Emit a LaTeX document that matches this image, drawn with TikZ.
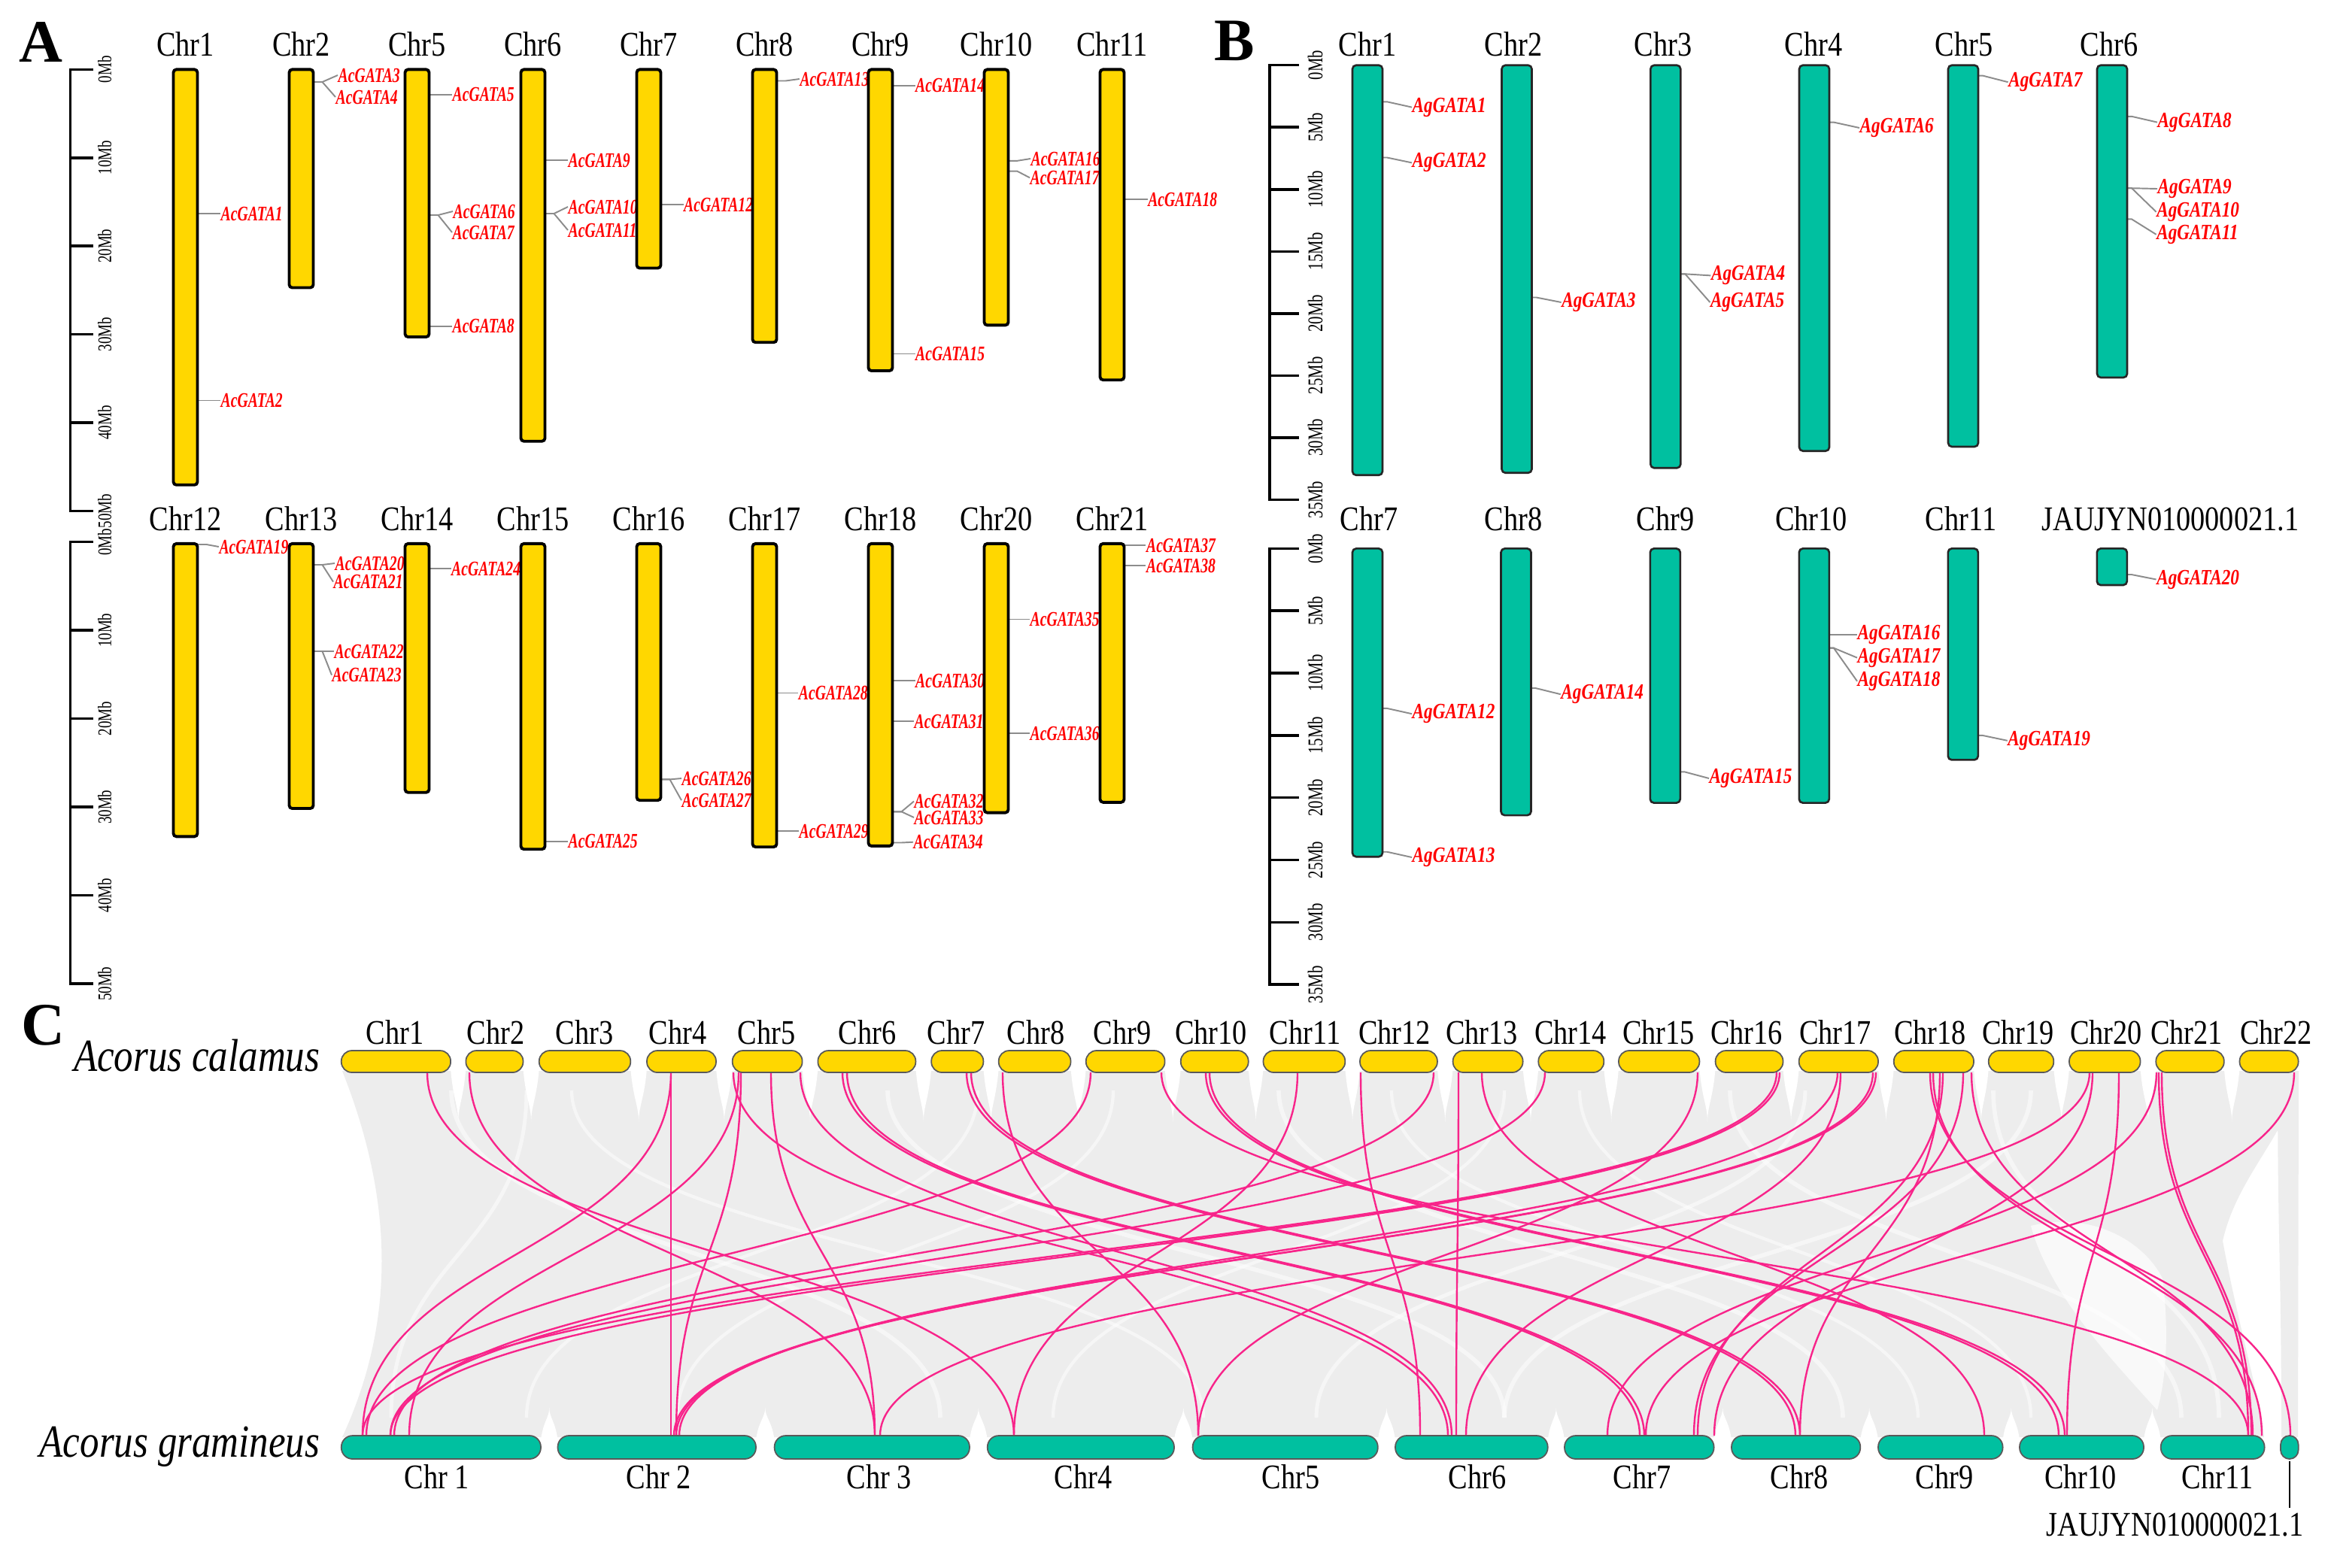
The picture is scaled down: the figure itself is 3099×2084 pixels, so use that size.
\documentclass[tikz,border=0pt]{standalone}
\usepackage{fontspec}
\setmainfont{Liberation Serif}
\usepackage{graphicx}
\definecolor{chryellow}{RGB}{255,215,0}
\definecolor{chrteal}{RGB}{0,192,160}
\definecolor{synpink}{RGB}{248,36,138}
\definecolor{syngrey}{RGB}{237,237,237}
\definecolor{conngrey}{RGB}{140,140,140}
\newcommand{\stA}[1]{\scalebox{1}[1.4]{#1}}
\newcommand{\stB}[1]{\scalebox{1}[1.25]{#1}}
\newcommand{\stC}[1]{\scalebox{1}[1.2]{#1}}
\newcommand{\stS}[1]{\scalebox{1}[1.35]{#1}}
\newcommand{\geneA}[5]{%
  \node[gA] (acg#5) at (#3,#4) {\stA{AcGATA#5}};
  \draw[conn] (#1,#2) -- ++(12,0) -- (acg#5.west);}
\newcommand{\geneB}[5]{%
  \node[gB] (agg#5) at (#3,#4+3) {\stB{AgGATA#5}};
  \draw[conn] (#1,#2) -- ++(6,0) -- (agg#5.west);}
\newcommand{\chrA}[6]{%
  \draw[barA] (#2-16,#3) rectangle (#2+16,#4);
  \node[chrlab] (#1) at (#2,#5) {\stC{#6}};}
\newcommand{\chrB}[7]{%
  \draw[barB] (#2-20,#3) rectangle (#2+20,#4);
  \node[chrlab] (#1) at (#6,#5) {\stC{#7}};}
\newcommand{\chrCt}[5]{%
  \draw[barCt] (#2,1397) rectangle (#3,1426);
  \node[chrlab] (#1) at (#4,1388) {\stC{#5}};}
\newcommand{\chrCb}[5]{%
  \draw[barCb] (#2,1909) rectangle (#3,1940);
  \node[chrlab] (#1) at (#4,1979) {\stC{#5}};}
\newcommand{\cuspT}[2]{%
  \fill[white] (#1,1420) .. controls (#1+3,1460) and ({(#1+#2)/2},1470) .. ({(#1+#2)/2},1492)
    .. controls ({(#1+#2)/2},1470) and (#2-3,1460) .. (#2,1420) -- cycle;}
\newcommand{\cuspB}[2]{%
  \fill[white] (#1,1915) .. controls (#1+3,1890) and ({(#1+#2)/2},1885) .. ({(#1+#2)/2},1872)
    .. controls ({(#1+#2)/2},1885) and (#2-3,1890) .. (#2,1915) -- cycle;}
\newcommand{\wst}[3]{%
  \draw[white, line width=#3, opacity=0.55] (#1,1450) .. controls (#1,1667) and (#2,1667) .. (#2,1885);}
\begin{document}
\begin{tikzpicture}[x=0.01cm,y=-0.01cm,
  barA/.style={draw=black, line width=1.1pt, fill=chryellow, rounded corners=0.04cm},
  barB/.style={draw=black!85, line width=0.75pt, fill=chrteal, rounded corners=0.05cm},
  barCt/.style={draw=black!65, line width=0.5pt, fill=chryellow, rounded corners=0.14cm},
  barCb/.style={draw=black!65, line width=0.5pt, fill=chrteal, rounded corners=0.15cm},
  conn/.style={draw=conngrey, line width=0.55pt},
  sc/.style={draw=black, line width=1pt},
  pinkline/.style={draw=synpink, line width=0.68pt},
  chrlab/.style={font=\fontsize{10.9}{12}\selectfont, inner sep=0pt, anchor=base},
  gA/.style={font=\fontsize{5.6}{6}\selectfont\bfseries\itshape, text=red, inner sep=0pt, anchor=west},
  gB/.style={font=\fontsize{6.6}{7}\selectfont\bfseries\itshape, text=red, inner sep=0pt, anchor=west},
  sclA/.style={font=\fontsize{5.4}{6}\selectfont, inner sep=0pt, rotate=90},
  sclB/.style={font=\fontsize{5.9}{6.5}\selectfont, inner sep=0pt, rotate=90},
  letter/.style={font=\fontsize{22.8}{24}\selectfont\bfseries, inner sep=0pt, anchor=base},
  species/.style={font=\fontsize{14.5}{16}\selectfont\itshape, inner sep=0pt, anchor=base east}]
\useasboundingbox (0,0) rectangle (3099,2084);
\fill[white] (0,0) rectangle (3099,2084);

% ---------------- Panel letters
\node[letter] (lA) at (54,82) {A};
\node[letter] (lB) at (1641,80) {B};
\node[letter] (lC) at (57,1389) {C};

% ---------------- Panel A scale bars
\draw[sc] (124,92.4) -- (93.5,92.4) -- (93.5,679.4) -- (124,679.4);
\foreach \k/\t in {0/0Mb,1/10Mb,2/20Mb,3/30Mb,4/40Mb,5/50Mb}{
  \draw[sc] (93.5,{92.4+117.4*\k}) -- (124,{92.4+117.4*\k});
  \node[sclA] (sau\k) at (139,{92.4+117.4*\k}) {\stS{\t}};}
\draw[sc] (124,720.7) -- (93.5,720.7) -- (93.5,1308.2) -- (124,1308.2);
\foreach \k/\t in {0/0Mb,1/10Mb,2/20Mb,3/30Mb,4/40Mb,5/50Mb}{
  \draw[sc] (93.5,{720.7+117.5*\k}) -- (124,{720.7+117.5*\k});
  \node[sclA] (sal\k) at (139,{720.7+117.5*\k}) {\stS{\t}};}

% ---------------- Panel A gene connectors and labels
\geneA{262.5}{284}{293}{284}{1}
\geneA{262.5}{532.5}{293}{532.5}{2}
\geneA{416.5}{109}{449}{100}{3}
\geneA{416.5}{109}{446}{129}{4}
\geneA{570.5}{125.8}{601}{125.8}{5}
\geneA{570.5}{286}{602}{281}{6}
\geneA{570.5}{286}{601}{309}{7}
\geneA{570.5}{433.6}{601}{433.6}{8}
\geneA{724.5}{213}{755}{213}{9}
\geneA{724.5}{284}{755}{275}{10}
\geneA{724.5}{284}{755}{306}{11}
\geneA{878.5}{272.3}{908.5}{272.3}{12}
\geneA{1032.5}{107.5}{1062.8}{105}{13}
\geneA{1186.5}{113.6}{1216.5}{113.6}{14}
\geneA{1186.5}{470.5}{1216.5}{470.5}{15}
\geneA{1340.5}{213.8}{1370}{211}{16}
\geneA{1340.5}{227.7}{1369}{236.3}{17}
\geneA{1494.5}{265.4}{1525.6}{265.4}{18}
\geneA{262.5}{724}{290.8}{727}{19}
\geneA{416.5}{751}{445}{749}{20}
\geneA{416.5}{751}{443}{773.6}{21}
\geneA{416.5}{866}{444}{866}{22}
\geneA{416.5}{866}{441}{897.6}{23}
\geneA{570.5}{756.3}{599.5}{756.3}{24}
\geneA{724.5}{1118.8}{755}{1118.8}{25}
\geneA{878.5}{1036.4}{906}{1035}{26}
\geneA{878.5}{1036.4}{906}{1064.2}{27}
\geneA{1032.5}{921.5}{1061.2}{921.5}{28}
\geneA{1032.5}{1105.4}{1062}{1105.4}{29}
\geneA{1186.5}{905}{1216.5}{905}{30}
\geneA{1186.5}{959.2}{1215}{959.2}{31}
\geneA{1186.5}{1079.3}{1215}{1065.5}{32}
\geneA{1186.5}{1079.3}{1215}{1087}{33}
\geneA{1186.5}{1120.5}{1214}{1119.7}{34}
\geneA{1340.5}{823.5}{1369}{823.5}{35}
\geneA{1340.5}{975.3}{1369}{975.3}{36}
\geneA{1494.5}{725}{1523.4}{725}{37}
\geneA{1494.5}{752}{1523.4}{752}{38}

% ---------------- Panel A chromosomes
\chrA{aC1}{246.5}{92.4}{644.8}{74}{Chr1}
\chrA{aC2}{400.5}{92.4}{382.5}{74}{Chr2}
\chrA{aC5}{554.5}{92.4}{448}{74}{Chr5}
\chrA{aC6}{708.5}{92.4}{586.7}{74}{Chr6}
\chrA{aC7}{862.5}{92.4}{356.5}{74}{Chr7}
\chrA{aC8}{1016.5}{92.4}{455.3}{74}{Chr8}
\chrA{aC9}{1170.5}{92.4}{493}{74}{Chr9}
\chrA{aC10}{1324.5}{92.4}{432.4}{74}{Chr10}
\chrA{aC11}{1478.5}{92.4}{505.2}{74}{Chr11}
\chrA{aC12}{246.5}{722.9}{1112.3}{705.5}{Chr12}
\chrA{aC13}{400.5}{722.9}{1075}{705.5}{Chr13}
\chrA{aC14}{554.5}{722.9}{1053.7}{705.5}{Chr14}
\chrA{aC15}{708.5}{722.9}{1129.2}{705.5}{Chr15}
\chrA{aC16}{862.5}{722.9}{1064.2}{705.5}{Chr16}
\chrA{aC17}{1016.5}{722.9}{1126.2}{705.5}{Chr17}
\chrA{aC18}{1170.5}{722.9}{1124.9}{705.5}{Chr18}
\chrA{aC20}{1324.5}{722.9}{1080.6}{705.5}{Chr20}
\chrA{aC21}{1478.5}{722.9}{1066.8}{705.5}{Chr21}

% ---------------- Panel B scale bars
\draw[sc] (1727,86.7) -- (1688,86.7) -- (1688,664.4) -- (1727,664.4);
\foreach \k/\t in {0/0Mb,1/5Mb,2/10Mb,3/15Mb,4/20Mb,5/25Mb,6/30Mb,7/35Mb}{
  \draw[sc] (1688,{86.7+82.53*\k}) -- (1727,{86.7+82.53*\k});
  \node[sclB] (sbu\k) at (1748.5,{86.7+82.53*\k}) {\stS{\t}};}
\draw[sc] (1727,729.4) -- (1688,729.4) -- (1688,1309.2) -- (1727,1309.2);
\foreach \k/\t in {0/0Mb,1/5Mb,2/10Mb,3/15Mb,4/20Mb,5/25Mb,6/30Mb,7/35Mb}{
  \draw[sc] (1688,{729.4+82.83*\k}) -- (1727,{729.4+82.83*\k});
  \node[sclB] (sbl\k) at (1748.5,{729.4+82.83*\k}) {\stS{\t}};}

% ---------------- Panel B gene connectors and labels
\geneB{1838}{135.3}{1877}{139.6}{1}
\geneB{1838}{209.5}{1877}{213.4}{2}
\geneB{2036.5}{395.5}{2075.6}{399}{3}
\geneB{2234.3}{364.3}{2274.4}{363.4}{4}
\geneB{2234.3}{364.3}{2273.4}{399}{5}
\geneB{2432}{162.6}{2472}{167}{6}
\geneB{2630}{100.6}{2669.6}{106.2}{7}
\geneB{2828}{154.8}{2868}{159.6}{8}
\geneB{2828}{250.2}{2868}{248}{9}
\geneB{2828}{250.2}{2866.6}{278.8}{10}
\geneB{2828}{291.4}{2866.6}{308.8}{11}
\geneB{1838}{941.9}{1877}{946.2}{12}
\geneB{1838}{1132.7}{1877}{1137}{13}
\geneB{2035.5}{915}{2074.7}{920.2}{14}
\geneB{2233.8}{1026.4}{2272}{1032}{15}
\geneB{2431.8}{844.3}{2469}{841.3}{16}
\geneB{2431.8}{861.6}{2469}{871.6}{17}
\geneB{2431.8}{861.6}{2469}{902.8}{18}
\geneB{2629.8}{977.9}{2668.7}{981.8}{19}
\geneB{2827.8}{764}{2866.6}{767.5}{20}

% ---------------- Panel B chromosomes
\chrB{bC1}{1818}{86.7}{631.8}{74}{1818}{Chr1}
\chrB{bC2}{2016.5}{86.7}{628.8}{74}{2012}{Chr2}
\chrB{bC3}{2214.3}{86.7}{622.3}{74}{2211}{Chr3}
\chrB{bC4}{2412}{86.7}{599.7}{74}{2411}{Chr4}
\chrB{bC5}{2610}{86.7}{594}{74}{2611}{Chr5}
\chrB{bC6}{2808}{86.7}{502}{74}{2804}{Chr6}
\chrB{bC7}{1818}{729.4}{1139.2}{705}{1820}{Chr7}
\chrB{bC8}{2015.5}{729.4}{1084.1}{705}{2012}{Chr8}
\chrB{bC9}{2213.8}{729.4}{1067.6}{705}{2214}{Chr9}
\chrB{bC10}{2411.8}{729.4}{1067.6}{705}{2408}{Chr10}
\chrB{bC11}{2609.8}{729.4}{1010.4}{705}{2607}{Chr11}
\chrB{bCJ}{2807.8}{729.4}{778}{705}{2885.5}{JAUJYN010000021.1}

% ---------------- Panel C synteny background
\fill[syngrey] (455,1424) -- (3056,1424) .. controls (3050,1500) and (2975,1560) .. (2955,1650)
  .. controls (2975,1760) and (3005,1860) .. (3010,1911) -- (455,1911)
  .. controls (525,1760) and (525,1600) .. (455,1424) -- cycle;
\fill[syngrey] (3028,1424) .. controls (3028,1667) and (3033,1667) .. (3033,1911) -- (3055,1911)
  .. controls (3055,1667) and (3056,1667) .. (3056,1424) -- cycle;
\fill[white, opacity=0.7] (2700,1630) .. controls (2780,1610) and (2850,1650) .. (2875,1700)
  .. controls (2885,1780) and (2878,1840) .. (2868,1875) .. controls (2800,1800) and (2725,1720) .. (2700,1630) -- cycle;
\wst{600}{1250}{1.6pt}
\wst{700}{520}{1.4pt}
\wst{760}{1600}{1.2pt}
\wst{1180}{2000}{1.6pt}
\wst{1480}{900}{1.2pt}
\wst{1700}{2450}{1.6pt}
\wst{2000}{1400}{1.2pt}
\wst{2300}{2900}{1.6pt}
\wst{2700}{2000}{1.6pt}
\wst{2650}{2950}{1.6pt}
\wst{1300}{700}{1.2pt}
\wst{2100}{2700}{1.2pt}
\wst{1850}{2550}{1.2pt}
\wst{2400}{1750}{1.4pt}
\foreach \r/\l in {599/619.4,695.5/716.8,838.3/860,952/973.7,1066.6/1087.4,1217.4/1238.2,
  1307.4/1327.7,1423.5/1443.8,1548.6/1569.8,1659.7/1679.5,1788.3/1808,1910.9/1931.6,
  2024.6/2045.3,2132.3/2152,2259.4/2280.6,2370.5/2391.7,2497/2517.8,2624/2643.8,
  2730.3/2751,2845.5/2866.3,2956.8/2977.5}{\cuspT{\r}{\l}}
\foreach \r/\l in {719/741.5,1005/1029.6,1289/1312.8,1561/1585.6,1831.8/1855,2057.7/2080,
  2278.6/2302,2473.3/2497,2662.6/2685,2850/2872.7,3010.6/3032}{\cuspB{\r}{\l}}

% ---------------- Panel C collinear GATA pairs
\foreach \a/\b in {568/1348,624/1163,892/892,892/482,982/544,985/899,1025/1163,1064/1930,
  975/1925,1120/2180,1126/2186,1285/2387,1291/2393,1333/1593,1450/487,1544/2989,
  1603/2737,1608/2745,1725/1348,1809/1888,1906/524,1939/1936,1970/2638,2054/519,
  2257/1593,2362/482,2366/519,2443/903,2447/1949,2490/899,2494/896,2566/3045,
  2570/3007,2579/2393,2583/2257,2610/2252,2621/2995,2778/1170,2782/2279,2817/2748,
  2867/2137,2870/2989,2874/2993,3050/2188}{
  \draw[pinkline] (\a,1426) .. controls (\a,1667.5) and (\b,1667.5) .. (\b,1909);}

% ---------------- Panel C chromosomes
\node[species] (acal) at (426,1424) {\stC{Acorus calamus}};
\node[species] (agra) at (426,1937) {\stC{Acorus gramineus}};
\chrCt{ct1}{453.8}{599.1}{525}{Chr1}
\chrCt{ct2}{619.4}{695.5}{659}{Chr2}
\chrCt{ct3}{716.8}{838.3}{777}{Chr3}
\chrCt{ct4}{860}{952}{901}{Chr4}
\chrCt{ct5}{973.7}{1066.6}{1019}{Chr5}
\chrCt{ct6}{1087.4}{1217.4}{1153}{Chr6}
\chrCt{ct7}{1238.2}{1307.4}{1271}{Chr7}
\chrCt{ct8}{1327.7}{1423.5}{1377}{Chr8}
\chrCt{ct9}{1443.8}{1548.6}{1492}{Chr9}
\chrCt{ct10}{1569.8}{1659.7}{1610}{Chr10}
\chrCt{ct11}{1679.5}{1788.3}{1735}{Chr11}
\chrCt{ct12}{1808}{1910.9}{1854}{Chr12}
\chrCt{ct13}{1931.6}{2024.6}{1970}{Chr13}
\chrCt{ct14}{2045.3}{2132.3}{2088}{Chr14}
\chrCt{ct15}{2152}{2259.4}{2205}{Chr15}
\chrCt{ct16}{2280.6}{2370.5}{2322}{Chr16}
\chrCt{ct17}{2391.7}{2497}{2440}{Chr17}
\chrCt{ct18}{2517.8}{2624}{2566}{Chr18}
\chrCt{ct19}{2643.8}{2730.3}{2683}{Chr19}
\chrCt{ct20}{2751}{2845.5}{2800}{Chr20}
\chrCt{ct21}{2866.3}{2956.8}{2907}{Chr21}
\chrCt{ct22}{2977.5}{3055.6}{3026}{Chr22}
\chrCb{cb1}{453.8}{719}{581}{Chr 1}
\chrCb{cb2}{741.5}{1005}{876}{Chr 2}
\chrCb{cb3}{1029.6}{1289}{1169}{Chr 3}
\chrCb{cb4}{1312.8}{1561}{1440}{Chr4}
\chrCb{cb5}{1585.6}{1831.8}{1716}{Chr5}
\chrCb{cb6}{1855}{2057.7}{1964}{Chr6}
\chrCb{cb7}{2080}{2278.6}{2183}{Chr7}
\chrCb{cb8}{2302}{2473.3}{2392}{Chr8}
\chrCb{cb9}{2497}{2662.6}{2585}{Chr9}
\chrCb{cb10}{2685}{2850}{2766}{Chr10}
\chrCb{cb11}{2872.7}{3010.6}{2948}{Chr11}
\draw[barCb, rounded corners=0.118cm] (3032,1909) rectangle (3055.6,1940);
\node[chrlab] (cbJ) at (2891.5,2042) {\stC{JAUJYN010000021.1}};
\coordinate (jtop) at (3044,1943);
\coordinate (jbot) at (3044,2005);
\draw[line width=0.6pt] (jtop) -- (jbot);
\end{tikzpicture}
\end{document}
